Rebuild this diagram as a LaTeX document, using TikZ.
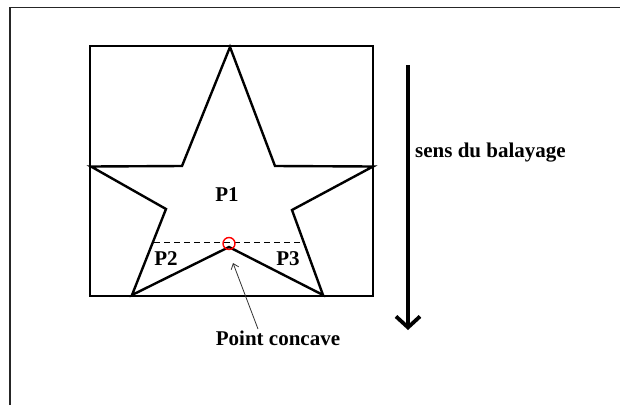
\documentclass[tikz,border=0pt]{standalone}
\usepackage{fontspec}
\setmainfont{Liberation Serif}
\usetikzlibrary{arrows.meta}
\begin{document}
\begin{tikzpicture}[x=1pt,y=-1pt,
  lbl/.style={font=\fontsize{21}{23}\selectfont\bfseries, inner sep=0pt},
  starline/.style={line width=2.4pt, line join=miter},
  frameline/.style={line width=1.4pt, draw=black!85},
  bigarrow/.style={line width=3.8pt, -{Straight Barb[length=11pt,width=24pt]}},
  smallarrow/.style={line width=0.8pt, draw=black!80, -{Straight Barb[length=5pt,width=8pt]}}]
\useasboundingbox (0,0) rectangle (620,405);
% outer frame (top and left only visible)
\draw[frameline] (10,405) -- (10,7.5) -- (620,7.5);
% box
\draw[line width=1.5pt] (90,46) rectangle (373,296);
% star vertices
\coordinate (top) at (230,47);
\coordinate (ur) at (275,166);
\coordinate (ro) at (373,166.5);
\coordinate (rl) at (292,210);
\coordinate (br) at (323,295);
\coordinate (cc) at (229,247);
\coordinate (bl) at (132,295);
\coordinate (ll) at (166,209);
\coordinate (lo) at (91,166.5);
\coordinate (ul) at (182,166);
\draw[starline] (top) -- (ur) -- (ro) -- (rl) -- (br) -- (cc) -- (bl) -- (ll) -- (lo) -- (ul) -- cycle;
% dashed split line
\coordinate (dl) at (154,242);
\coordinate (dr) at (302,242);
\draw[line width=1pt, dash pattern=on 6pt off 4pt] (dl) -- (dr);
% concave point marker
\node[draw=red, line width=1.4pt, circle, minimum size=12pt, inner sep=0pt] (cp) at (229,243.5) {};
% labels
\node[lbl] (p1) at (227,195) {P1};
\node[lbl] (p2) at (166,259) {P2};
\node[lbl] (p3) at (288,259) {P3};
\node[lbl] (pc) at (278,338) {Point concave};
\coordinate (pctail) at (258,329);
\coordinate (pctip) at (233,263);
\draw[smallarrow] (pctail) -- (pctip);
% sweep arrow
\coordinate (sa) at (408,65);
\coordinate (sb) at (408,330);
\draw[bigarrow] (sa) -- (sb);
\node[lbl, anchor=west] (sens) at (415,153) {sens du balayage};
\end{tikzpicture}
\end{document}
